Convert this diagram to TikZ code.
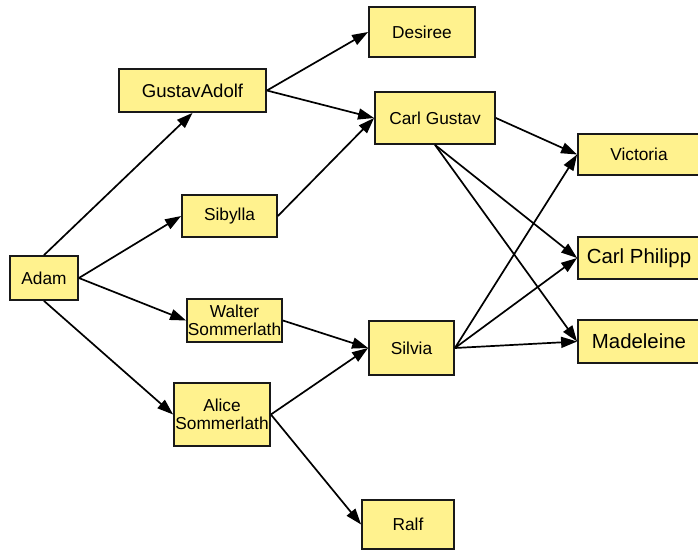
\documentclass[tikz,border=0pt]{standalone}
\usepackage{fontspec}
\setmainfont{Liberation Sans}
\usetikzlibrary{arrows.meta}
\definecolor{boxfill}{HTML}{FFF28E}
\begin{document}
\begin{tikzpicture}[x=1pt,y=-1pt,
  person/.style={draw=black!90, line width=1.8pt, fill=boxfill, inner sep=0pt,
    align=center, font=\fontsize{17.3}{18.5}\selectfont},
  big/.style={font=\fontsize{20.4}{22}\selectfont},
  link/.style={line width=1.7pt, -{Triangle[length=16pt,width=11pt]}}]
\useasboundingbox (0,0) rectangle (698,552);

% people
\node[person, minimum width=68pt,  minimum height=44pt] (adam)   at (44,278)     {Adam};
\node[person, minimum width=147pt, minimum height=43pt, font=\fontsize{18.6}{20}\selectfont] (gustavadolf) at (192.5,90.5) {GustavAdolf};
\node[person, minimum width=95pt,  minimum height=42pt] (sibylla) at (229.5,216)  {Sibylla};
\node[person, minimum width=95pt,  minimum height=43pt] (walter)  at (234.5,320.5) {Walter\\Sommerlath};
\node[person, minimum width=96pt,  minimum height=63pt] (alice)   at (222,414.5)  {Alice\\Sommerlath};
\node[person, minimum width=106pt, minimum height=50pt] (desiree) at (422,32)     {Desiree};
\node[person, minimum width=120pt, minimum height=52pt] (carlgustav) at (435,118) {Carl Gustav};
\node[person, minimum width=85pt,  minimum height=54pt] (silvia)  at (411.5,348)  {Silvia};
\node[person, minimum width=92pt,  minimum height=49pt] (ralf)    at (408,524.5)  {Ralf};
\node[person, minimum width=122pt, minimum height=41pt] (victoria) at (639,154.5) {Victoria};
\node[person, big, minimum width=122pt, minimum height=42pt] (carlphilipp) at (639,258) {Carl Philipp};
\node[person, big, minimum width=122pt, minimum height=43pt] (madeleine) at (639,341.5) {Madeleine};

% family links
\draw[link] (adam.north) -- (gustavadolf.south);
\draw[link] (adam.east) -- (sibylla.west);
\draw[link] (adam.east) -- (walter.west);
\draw[link] (adam.south) -- (alice.west);
\draw[link] (gustavadolf.east) -- (desiree.west);
\draw[link] (gustavadolf.east) -- (carlgustav.west);
\draw[link] (sibylla.east) -- (carlgustav.west);
\draw[link] (walter.east) -- (silvia.west);
\draw[link] (alice.east) -- (silvia.west);
\draw[link] (alice.east) -- (ralf.west);
\draw[link] (carlgustav.east) -- (victoria.west);
\draw[link] (carlgustav.south) -- (carlphilipp.west);
\draw[link] (carlgustav.south) -- (madeleine.west);
\draw[link] (silvia.east) -- (victoria.west);
\draw[link] (silvia.east) -- (carlphilipp.west);
\draw[link] (silvia.east) -- (madeleine.west);
\end{tikzpicture}
\end{document}
